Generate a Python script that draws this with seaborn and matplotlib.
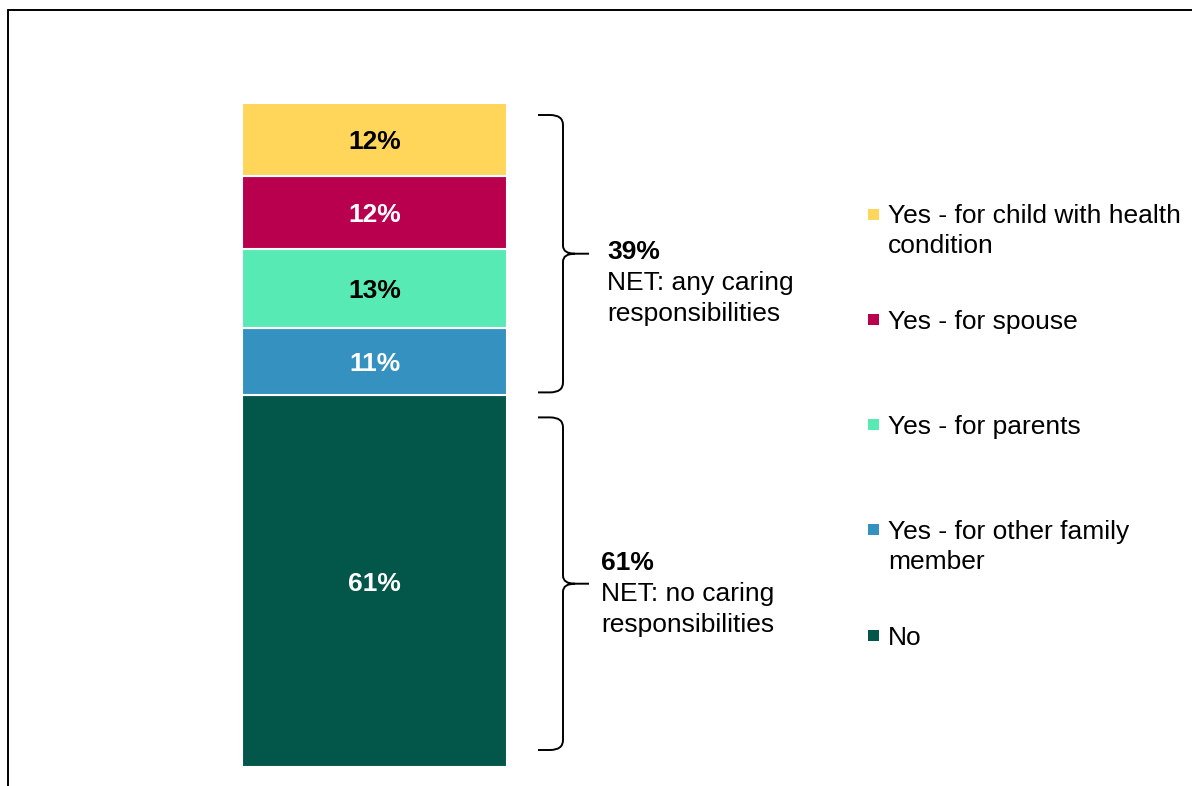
import matplotlib
matplotlib.use("Agg")
import matplotlib.pyplot as plt
import pandas as pd
import seaborn as sns
from matplotlib.path import Path
from matplotlib.patches import PathPatch, Rectangle
from matplotlib.lines import Line2D
from matplotlib.transforms import IdentityTransform

# ---- data -------------------------------------------------------------
categories = [
    "No",
    "Yes - for other family\nmember",
    "Yes - for parents",
    "Yes - for spouse",
    "Yes - for child with health\ncondition",
]
values = [61, 11, 13, 12, 12]
colors = ["#03564A", "#3592C0", "#58EAB5", "#B8004F", "#FFD55A"]
label_colors = ["white", "white", "black", "white", "black"]

net_labels = ["NET: no caring\nresponsibilities", "NET: any caring\nresponsibilities"]
net_values = [61, 39]
net_members = [[0], [1, 2, 3, 4]]

# ---- figure -------------------------------------------------------------
W, H, DPI = 1192, 786, 100
sns.set_theme(style="white")
plt.rcParams["font.family"] = ["Liberation Sans", "DejaVu Sans"]
FS = 19

fig = plt.figure(figsize=(W / DPI, H / DPI), dpi=DPI)
fig.patch.set_facecolor("white")
ax = fig.add_axes([242 / W, (H - 767) / H, 265 / W, 664 / H])

df = pd.DataFrame({"group": ["All"] * len(values), "category": categories, "value": values})
df["bottom"] = df["value"].cumsum() - df["value"]

for i, row in df.iterrows():
    sns.barplot(x=[row["group"]], y=[row["value"]], bottom=row["bottom"],
                color=colors[i], saturation=1, width=1.0,
                edgecolor="white", linewidth=1.5, ax=ax)

ax.set_xlim(-0.5, 0.5)
ax.set_ylim(0, sum(values))
ax.axis("off")

CAP_HALF = 0.716 * FS * DPI / 72 / 2  # half cap height in pixels


def to_px_y(y):
    """Data y -> pixel row measured from the top of the figure."""
    return H - ax.transData.transform((0, y))[1]


def put_text(x_px, yc_px, s, **kw):
    """Place a line of text whose cap centre sits on yc_px (pixels from top)."""
    fig.text(x_px / W, 1 - (yc_px + CAP_HALF) / H, s, va="baseline",
             fontsize=FS, **kw)


# segment value labels
for i, row in df.iterrows():
    yc = to_px_y(row["bottom"] + row["value"] / 2)
    xc = ax.transData.transform((0, 0))[0]
    put_text(xc, yc, f"{row['value']}%", ha="center", weight="bold",
             color=label_colors[i])

# ---- curly braces with NET summaries --------------------------------------
brace_x0, brace_xv, brace_xt = 538, 563, 589
brace_insets = [(22, 17), (12, 3)]      # (top, bottom) pixel insets per group
text_x = [601, 607]
text_first = [-23, -4]                  # first text line relative to brace tip
LINE = 31

cum = df["value"].cumsum().tolist()
for g, members in enumerate(net_members):
    lo = df["bottom"][members[0]]
    hi = cum[members[-1]]
    top = to_px_y(hi) + brace_insets[g][0]
    bot = to_px_y(lo) - brace_insets[g][1]
    mid = (top + bot) / 2
    pts = [
        (brace_x0, top), (550, top), (brace_xv, top), (brace_xv, top + 10),
        (brace_xv, mid - 8), (brace_xv, mid), (575, mid), (brace_xt, mid),
        (575, mid), (brace_xv, mid), (brace_xv, mid + 8),
        (brace_xv, bot - 10), (brace_xv, bot), (550, bot), (brace_x0, bot),
    ]
    codes = [Path.MOVETO, Path.LINETO, Path.CURVE3, Path.CURVE3,
             Path.LINETO, Path.CURVE3, Path.CURVE3, Path.LINETO,
             Path.MOVETO, Path.CURVE3, Path.CURVE3,
             Path.LINETO, Path.CURVE3, Path.CURVE3, Path.LINETO]
    disp = [(x, H - y) for x, y in pts]
    fig.add_artist(PathPatch(Path(disp, codes), transform=IdentityTransform(),
                             fill=False, edgecolor="black", linewidth=1.4))
    y0 = mid + text_first[g]
    put_text(text_x[g], y0, f"{net_values[g]}%", weight="bold", color="black")
    for k, line in enumerate(net_labels[g].split("\n")):
        put_text(text_x[g], y0 + LINE * (k + 1), line, color="black")

# ---- legend ---------------------------------------------------------------
leg_y0, leg_step, leg_line = 214, 105.3, 30
for j, i in enumerate(reversed(range(len(categories)))):
    yc = leg_y0 + j * leg_step
    fig.add_artist(Rectangle((868, H - yc - 5.5), 11, 11, transform=IdentityTransform(),
                             facecolor=colors[i], edgecolor="none"))
    for k, line in enumerate(categories[i].split("\n")):
        put_text(888, yc + k * leg_line, line, color="black")

# ---- outer frame (top and left edges) -------------------------------------
fig.add_artist(Line2D([8 / W, 8 / W], [0, 1 - 10 / H], transform=fig.transFigure,
                      color="black", linewidth=1.4))
fig.add_artist(Line2D([8 / W, 1], [1 - 10 / H, 1 - 10 / H], transform=fig.transFigure,
                      color="black", linewidth=1.4))

fig.savefig("out.png", dpi=DPI, facecolor="white")
